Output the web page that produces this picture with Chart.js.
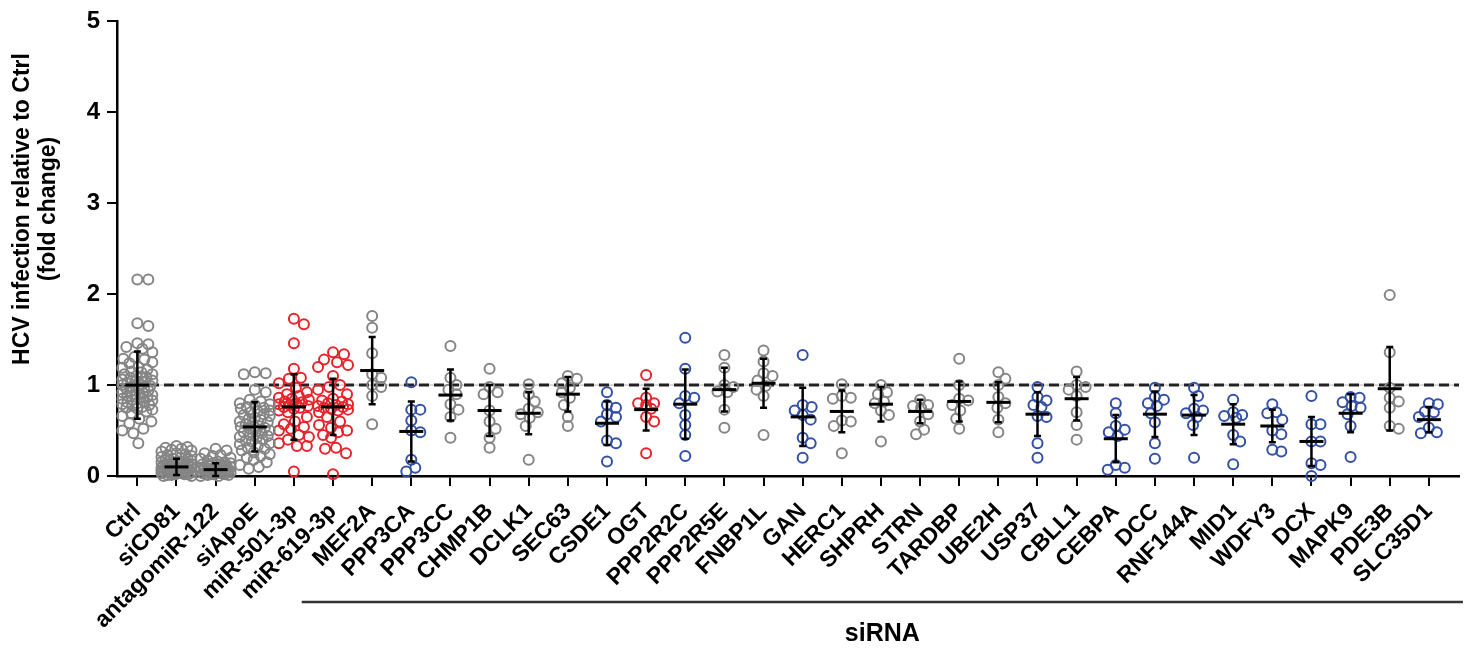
<!DOCTYPE html>
<html>
<head>
<meta charset="utf-8">
<script src="https://cdn.jsdelivr.net/npm/chart.js@4.4.0/dist/chart.umd.min.js"></script>
<style>
html, body { margin: 0; background: #fff; }
#wrap { width: 1475px; height: 652px; position: relative; }
</style>
</head>
<body>
<div id="wrap"><canvas id="hcvChart"></canvas></div>
<script>
const categories = ['Ctrl', 'siCD81', 'antagomiR-122', 'siApoE', 'miR-501-3p', 'miR-619-3p', 'MEF2A', 'PPP3CA',
    'PPP3CC', 'CHMP1B', 'DCLK1', 'SEC63', 'CSDE1', 'OGT', 'PPP2R2C', 'PPP2R5E', 'FNBP1L', 'GAN', 'HERC1',
    'SHPRH', 'STRN', 'TARDBP', 'UBE2H', 'USP37', 'CBLL1', 'CEBPA', 'DCC', 'RNF144A', 'MID1', 'WDFY3', 'DCX',
    'MAPK9', 'PDE3B', 'SLC35D1'];
// n = neutral (grey), r = red, b = blue
const hitType = ['n', 'n', 'n', 'n', 'r', 'r', 'n', 'b', 'n', 'n', 'n', 'n', 'b', 'r', 'b', 'n', 'n', 'b', 'n',
    'n', 'n', 'n', 'n', 'b', 'n', 'b', 'b', 'b', 'b', 'b', 'b', 'b', 'n', 'b'];

const ctrl = [2.16, 2.16, 1.68, 1.65, 1.46, 1.45, 1.42, 1.40, 1.36, 1.31, 1.29, 1.28, 1.25, 1.24, 1.20, 1.19,
    1.17, 1.15, 1.14, 1.12, 1.12, 1.10, 1.09, 1.08, 1.08, 1.06, 1.05, 1.04, 1.03, 1.02, 1.01, 1.00, 0.99, 0.98,
    0.98, 0.96, 0.95, 0.94, 0.93, 0.92, 0.91, 0.90, 0.89, 0.88, 0.87, 0.86, 0.85, 0.84, 0.83, 0.82, 0.81, 0.80,
    0.79, 0.78, 0.77, 0.76, 0.75, 0.74, 0.73, 0.71, 0.69, 0.66, 0.63, 0.60, 0.58, 0.52, 0.50, 0.47, 0.36];
const siCD81 = [0.33, 0.32, 0.31, 0.30, 0.29, 0.28, 0.27, 0.25, 0.24, 0.23, 0.22, 0.21, 0.20, 0.19, 0.19, 0.18,
    0.17, 0.17, 0.16, 0.15, 0.15, 0.14, 0.14, 0.13, 0.13, 0.12, 0.12, 0.12, 0.11, 0.11, 0.11, 0.10, 0.10, 0.10,
    0.09, 0.09, 0.09, 0.08, 0.08, 0.08, 0.07, 0.07, 0.07, 0.06, 0.06, 0.06, 0.05, 0.05, 0.05, 0.04, 0.04, 0.04,
    0.03, 0.03, 0.03, 0.02, 0.02, 0.02, 0.01, 0.01, 0.00, 0.00];
const antagomiR122 = [0.30, 0.28, 0.25, 0.23, 0.22, 0.20, 0.19, 0.17, 0.16, 0.15, 0.14, 0.14, 0.13, 0.13, 0.12,
    0.12, 0.11, 0.11, 0.10, 0.10, 0.10, 0.09, 0.09, 0.09, 0.08, 0.08, 0.08, 0.07, 0.07, 0.07, 0.06, 0.06, 0.06,
    0.05, 0.05, 0.05, 0.04, 0.04, 0.04, 0.03, 0.03, 0.03, 0.02, 0.02, 0.02, 0.01, 0.01, 0.00, 0.00];
const siApoE = [1.14, 1.13, 1.12, 0.95, 0.92, 0.84, 0.82, 0.80, 0.79, 0.78, 0.76, 0.75, 0.74, 0.72, 0.71, 0.70,
    0.68, 0.67, 0.66, 0.64, 0.63, 0.62, 0.60, 0.59, 0.58, 0.57, 0.55, 0.54, 0.53, 0.52, 0.50, 0.49, 0.48, 0.47,
    0.45, 0.44, 0.43, 0.42, 0.40, 0.39, 0.38, 0.36, 0.35, 0.33, 0.31, 0.30, 0.28, 0.26, 0.24, 0.22, 0.20, 0.18,
    0.15, 0.12, 0.10, 0.08];
const miR501 = [1.73, 1.67, 1.46, 1.18, 1.08, 1.07, 1.02, 0.97, 0.92, 0.90, 0.88, 0.86, 0.85, 0.84, 0.82, 0.81,
    0.80, 0.79, 0.78, 0.77, 0.76, 0.75, 0.74, 0.72, 0.70, 0.65, 0.60, 0.57, 0.54, 0.52, 0.50, 0.45, 0.43, 0.40,
    0.36, 0.33, 0.33, 0.05];
const miR619 = [1.36, 1.34, 1.28, 1.25, 1.22, 1.20, 1.10, 1.00, 0.98, 0.95, 0.90, 0.85, 0.83, 0.82, 0.80, 0.79,
    0.78, 0.77, 0.76, 0.75, 0.74, 0.73, 0.72, 0.70, 0.65, 0.60, 0.56, 0.53, 0.50, 0.48, 0.45, 0.42, 0.31, 0.30,
    0.25, 0.02];
const mef2a = [1.76, 1.63, 1.35, 1.12, 1.08, 1.00, 0.98, 0.88, 0.57];
const ppp3ca = [1.03, 0.73, 0.73, 0.61, 0.50, 0.48, 0.18, 0.09, 0.05];
const ppp3cc = [1.43, 1.08, 1.00, 0.95, 0.90, 0.79, 0.73, 0.65, 0.42];
const chmp1b = [1.18, 0.98, 0.92, 0.90, 0.72, 0.60, 0.52, 0.42, 0.31];
const dclk1 = [1.01, 0.90, 0.82, 0.74, 0.70, 0.68, 0.64, 0.55, 0.18];
const sec63 = [1.10, 1.07, 1.02, 0.97, 0.92, 0.86, 0.78, 0.65, 0.55];
const csde1 = [0.92, 0.78, 0.75, 0.68, 0.65, 0.60, 0.39, 0.36, 0.16];
const ogt = [1.11, 0.86, 0.80, 0.80, 0.78, 0.74, 0.65, 0.60, 0.25];
const ppp2r2c = [1.52, 1.18, 0.88, 0.86, 0.80, 0.67, 0.56, 0.45, 0.22];
const ppp2r5e = [1.33, 1.19, 1.00, 0.98, 0.93, 0.92, 0.73, 0.53];
const fnbp1l = [1.38, 1.26, 1.13, 1.10, 1.05, 0.99, 0.95, 0.88, 0.45];
const gan = [1.33, 0.78, 0.76, 0.72, 0.67, 0.62, 0.42, 0.36, 0.20];
const herc1 = [1.01, 0.88, 0.86, 0.85, 0.61, 0.60, 0.55, 0.25];
const shprh = [1.00, 0.92, 0.90, 0.82, 0.80, 0.72, 0.67, 0.38];
const strn = [0.84, 0.78, 0.77, 0.75, 0.68, 0.60, 0.51, 0.46];
const tardbp = [1.29, 1.00, 0.85, 0.83, 0.78, 0.72, 0.63, 0.52];
const ube2h = [1.14, 1.07, 1.00, 0.87, 0.80, 0.75, 0.62, 0.48];
const usp37 = [0.98, 0.87, 0.83, 0.78, 0.76, 0.66, 0.65, 0.36, 0.20];
const cbll1 = [1.15, 1.00, 0.98, 0.95, 0.88, 0.70, 0.56, 0.40];
const cebpa = [0.80, 0.69, 0.55, 0.51, 0.48, 0.44, 0.12, 0.09, 0.07];
const dcc = [0.97, 0.87, 0.84, 0.80, 0.77, 0.69, 0.59, 0.36, 0.19];
const rnf144a = [0.97, 0.88, 0.74, 0.72, 0.69, 0.65, 0.56, 0.20];
const mid1 = [0.84, 0.70, 0.67, 0.66, 0.64, 0.45, 0.38, 0.13];
const wdfy3 = [0.79, 0.70, 0.69, 0.62, 0.50, 0.46, 0.29, 0.27];
const dcx = [0.88, 0.57, 0.57, 0.38, 0.38, 0.14, 0.12, 0.00];
const mapk9 = [0.87, 0.86, 0.81, 0.77, 0.75, 0.68, 0.55, 0.21];
const pde3b = [1.99, 1.36, 0.97, 0.86, 0.82, 0.75, 0.55, 0.52];
const slc35d1 = [0.80, 0.79, 0.71, 0.70, 0.65, 0.53, 0.48, 0.47];

const groupValues = [ctrl, siCD81, antagomiR122, siApoE, miR501, miR619, mef2a, ppp3ca, ppp3cc, chmp1b, dclk1,
    sec63, csde1, ogt, ppp2r2c, ppp2r5e, fnbp1l, gan, herc1, shprh, strn, tardbp, ube2h, usp37, cbll1, cebpa, dcc,
    rnf144a, mid1, wdfy3, dcx, mapk9, pde3b, slc35d1];
const means = [1.00, 0.10, 0.07, 0.54, 0.76, 0.76, 1.16, 0.49, 0.89, 0.72, 0.69, 0.90, 0.58, 0.73, 0.79, 0.95,
    1.02, 0.65, 0.71, 0.79, 0.71, 0.82, 0.81, 0.68, 0.85, 0.41, 0.68, 0.67, 0.57, 0.55, 0.38, 0.69, 0.96, 0.62];
const sds = [0.37, 0.09, 0.07, 0.27, 0.36, 0.31, 0.37, 0.33, 0.28, 0.28, 0.23, 0.19, 0.24, 0.23, 0.38, 0.24,
    0.27, 0.32, 0.23, 0.19, 0.13, 0.22, 0.22, 0.24, 0.24, 0.26, 0.25, 0.22, 0.22, 0.18, 0.27, 0.21, 0.46, 0.14];
const yTicks = [0, 1, 2, 3, 4, 5];
const yTitle = ['HCV infection relative to Ctrl', '(fold change)'];
const refLevel = 1;
const bracketLabel = 'siRNA';

const colorFor = { n: '#858585', r: '#e8232b', b: '#3350a6' };
const FONT = "'Liberation Sans', Arial, sans-serif";

// simple beeswarm so overlapping points spread sideways (pixel approx -> category units)
const PX_X = 39.15, PX_Y = 91.2;
function swarm(vals) {
    const order = vals.map((v, i) => i).sort((a, b) => vals[b] - vals[a]);
    const placed = [];
    const offs = new Array(vals.length).fill(0);
    const big = vals.length > 20;
    const cap = big ? 15 : 10, need = big ? 11 : 9;
    order.forEach(i => {
        let best = 0, bestD = -1;
        for (let k = 0; k <= cap; k++) {
            let found = false;
            for (const s of (k === 0 ? [0] : [k, -k])) {
                let dmin = 1e9;
                placed.forEach(p => {
                    const d = Math.hypot(s - p.x, (vals[i] - p.v) * PX_Y);
                    if (d < dmin) dmin = d;
                });
                if (dmin >= need) { best = s; found = true; break; }
                if (dmin > bestD) { bestD = dmin; best = s; }
            }
            if (found) break;
        }
        placed.push({ x: best, v: vals[i] });
        offs[i] = best / PX_X;
    });
    return offs;
}

const datasets = groupValues.map((vals, i) => {
    const offs = swarm(vals);
    return {
        label: categories[i],
        data: vals.map((v, j) => ({ x: i + offs[j], y: v })),
        borderColor: colorFor[hitType[i]],
        backgroundColor: 'rgba(0,0,0,0)',
        pointRadius: 5,
        pointBorderWidth: 2,
        pointHoverRadius: 5,
        showLine: false,
        clip: false
    };
});

const errorBars = {
    id: 'errorBars',
    beforeDatasetsDraw(chart) {
        const { ctx, chartArea, scales: { y } } = chart;
        const py = y.getPixelForValue(refLevel);
        ctx.save();
        ctx.strokeStyle = '#b5b5b5';
        ctx.lineWidth = 1;
        ctx.beginPath();
        ctx.moveTo(chartArea.left, py);
        ctx.lineTo(chartArea.right, py);
        ctx.stroke();
        ctx.strokeStyle = '#222';
        ctx.lineWidth = 3;
        ctx.setLineDash([10, 5]);
        ctx.beginPath();
        ctx.moveTo(chartArea.left + 2, py);
        ctx.lineTo(chartArea.right, py);
        ctx.stroke();
        ctx.restore();
    },
    afterDatasetsDraw(chart) {
        const { ctx, scales: { x, y } } = chart;
        ctx.save();
        ctx.strokeStyle = '#000';
        means.forEach((m, i) => {
            const px = x.getPixelForValue(i);
            const pm = y.getPixelForValue(m);
            const hi = y.getPixelForValue(m + sds[i]);
            const lo = y.getPixelForValue(Math.max(0, m - sds[i]));
            ctx.lineWidth = 2.5;
            ctx.beginPath();
            ctx.moveTo(px, hi); ctx.lineTo(px, lo);
            ctx.moveTo(px - 3.5, hi); ctx.lineTo(px + 3.5, hi);
            ctx.moveTo(px - 3.5, lo); ctx.lineTo(px + 3.5, lo);
            ctx.stroke();
            ctx.lineWidth = 3;
            ctx.beginPath();
            ctx.moveTo(px - 12, pm); ctx.lineTo(px + 12, pm);
            ctx.stroke();
        });
        ctx.restore();
    },
    afterDraw(chart) {
        const { ctx, chartArea, scales: { x } } = chart;
        ctx.save();
        // y axis title, centred a bit above the axis middle like the original
        ctx.fillStyle = '#000';
        ctx.font = 'bold 23px ' + FONT;
        ctx.textAlign = 'center';
        ctx.textBaseline = 'middle';
        ctx.translate(0, 209);
        ctx.rotate(-Math.PI / 2);
        yTitle.forEach((t, k) => ctx.fillText(t, 0, 23 + k * 26));
        ctx.restore();

        const x0 = x.getPixelForValue(4.2);
        const x1 = x.getPixelForValue(33.87);
        const by = chartArea.bottom + 126;
        ctx.save();
        ctx.strokeStyle = '#333';
        ctx.lineWidth = 2.5;
        ctx.beginPath();
        ctx.moveTo(x0, by); ctx.lineTo(x1, by);
        ctx.stroke();
        ctx.fillStyle = '#000';
        ctx.font = 'bold 25px ' + FONT;
        ctx.textAlign = 'center';
        ctx.textBaseline = 'middle';
        ctx.fillText(bracketLabel, (x0 + x1) / 2, by + 32);
        ctx.restore();
    }
};

const hcvCtx = document.getElementById('hcvChart').getContext('2d');
const hcvChart = new Chart(hcvCtx, {
    type: 'scatter',
    data: { datasets: datasets },
    options: {
        responsive: true,
        maintainAspectRatio: false,
        animation: false,
        layout: { padding: { top: 20, right: 16, left: 0, bottom: 0 } },
        plugins: { legend: { display: false }, tooltip: { enabled: false } },
        scales: {
            x: {
                type: 'linear',
                min: -0.52,
                max: 33.77,
                afterFit: s => { s.height = 176; },
                border: { color: '#000', width: 2.5 },
                grid: { drawOnChartArea: false, tickLength: 10, lineWidth: 2, color: '#000' },
                ticks: {
                    stepSize: 1,
                    includeBounds: false,
                    autoSkip: false,
                    maxRotation: 45,
                    minRotation: 45,
                    padding: 12,
                    color: '#000',
                    font: { family: FONT, size: 23, weight: 'bold' },
                    callback: v => categories[v] ?? ''
                }
            },
            y: {
                min: yTicks[0],
                max: yTicks[yTicks.length - 1],
                afterFit: s => { s.width = 117; },
                border: { color: '#000', width: 2.5 },
                grid: { drawOnChartArea: false, tickLength: 10, lineWidth: 2, color: '#000' },
                afterBuildTicks: s => { s.ticks = yTicks.map(v => ({ value: v })); },
                ticks: {
                    padding: 7,
                    color: '#000',
                    font: { family: FONT, size: 24, weight: 'bold' }
                },
                title: { display: false }
            }
        }
    },
    plugins: [errorBars]
});
</script>
</body>
</html>
